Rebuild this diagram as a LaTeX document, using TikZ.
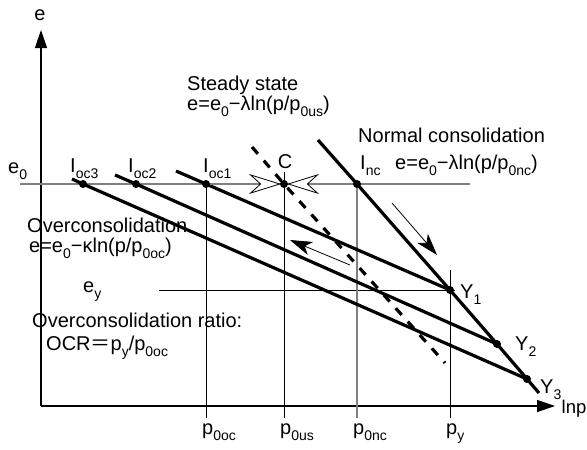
\documentclass[tikz,border=0pt]{standalone}
\usepackage{fontspec}
\setmainfont{Liberation Sans}
\newfontfamily\cjk{Noto Sans CJK JP}
\usetikzlibrary{arrows.meta}
\newcommand{\pedice}[1]{\raisebox{-6pt}{\fontsize{14}{14}\selectfont #1}}

\begin{document}
\begin{tikzpicture}[
                x=1pt, y=-1pt,
                font=\fontsize{20}{22}\selectfont,
                % Stili
                axis/.style={line width=1.3pt, -{Triangle[length=18pt,width=12pt]}},
                guide/.style={line width=1pt},
                greyguide/.style={line width=1.4pt, gray},
                curve/.style={line width=3.2pt},
                steady/.style={line width=3.2pt, dash pattern=on 9pt off 9pt},
                flow/.style={line width=0.8pt, -{Stealth[length=22pt,width=14pt,inset=6pt]}},
                meet/.style={line width=1.4pt, gray, shorten >=3pt,
                    -{Stealth[length=32pt,width=20pt,inset=11pt,line width=0.8pt,color=black,fill=white]}},
                lbl/.style={anchor=base west, inner sep=0pt}
            ]
                \useasboundingbox (0,0) rectangle (587,450);

                % ========================================================
                % 1. Punti notevoli
                % ========================================================
                \coordinate (O) at (41,406);
                \coordinate (Ioc3) at (83,184);
                \coordinate (Ioc2) at (136,184);
                \coordinate (Ioc1) at (206,184);
                \coordinate (C) at (284,184);
                \coordinate (Inc) at (357,184);
                \coordinate (Y1) at (450,290);
                \coordinate (Y2) at (497,344);
                \coordinate (Y3) at (527,379);

                % ========================================================
                % 2. Assi
                % ========================================================
                \coordinate (ytop) at (41,30);
                \coordinate (xend) at (555,406);
                \draw[axis] (O) -- (ytop);
                \draw[axis] (O) -- (xend);
                \node[lbl, anchor=base] (elab) at (40,20) {e};
                \node[lbl, font=\fontsize{18.5}{20}\selectfont] (lnp) at (561.5,413) {lnp};

                % ========================================================
                % 3. Linee di riferimento
                % ========================================================
                \coordinate (e0s) at (20,184);
                \coordinate (e0e) at (470,184);
                \draw[greyguide] (e0s) -- (e0e);
                \node[lbl] (e0) at (8,173) {e\pedice{0}};

                \coordinate (eys) at (159,290);
                \coordinate (eye) at (455,290);
                \draw[guide] (eys) -- (eye);
                \node[lbl] (ey) at (83,292) {e\pedice{y}};

                \coordinate (p0oc) at (206,418);
                \coordinate (Ctop) at (284,172);
                \coordinate (p0us) at (284,418);
                \coordinate (p0nc) at (357,418);
                \coordinate (pytop) at (450,270);
                \coordinate (py) at (450,418);
                \draw[guide] (Ioc1) -- (p0oc);
                \draw[guide] (Ctop) -- (p0us);
                \draw[greyguide] (Inc) -- (p0nc);
                \draw[guide] (pytop) -- (py);

                \node[lbl] (lp0oc) at (202,434) {p\pedice{0oc}};
                \node[lbl] (lp0us) at (280,434) {p\pedice{0us}};
                \node[lbl] (lp0nc) at (353,434) {p\pedice{0nc}};
                \node[lbl] (lpy) at (446,434) {p\pedice{y}};

                % ========================================================
                % 4. Linee di consolidazione
                % ========================================================
                \coordinate (oc1s) at (176,171);
                \coordinate (oc2s) at (115,175);
                \coordinate (oc3s) at (72,179);
                \draw[curve] (oc1s) -- (Ioc1) -- (Y1);
                \draw[curve] (oc2s) -- (Ioc2) -- (Y2);
                \draw[curve] (oc3s) -- (Ioc3) -- (Y3);

                \coordinate (ncs) at (318,140);
                \coordinate (nce) at (539,393);
                \draw[curve] (ncs) -- (Inc) -- (Y1) -- (Y2) -- (Y3) -- (nce);

                % Stato stazionario (tratteggiato)
                \coordinate (sss) at (252,147);
                \coordinate (sse) at (445,363);
                \draw[steady] (sss) -- (C) -- (sse);

                % Frecce di percorso
                \coordinate (f1s) at (392,203);
                \coordinate (f1e) at (437,255);
                \draw[flow] (f1s) -- (f1e);
                \coordinate (f2s) at (350,265);
                \coordinate (f2e) at (290,240);
                \draw[flow] (f2s) -- (f2e);

                % Frecce aperte verso C
                \draw[meet] (Ioc1) -- (C);
                \draw[meet] (Inc) -- (C);

                % Pallini
                \foreach \p in {Ioc3,Ioc2,Ioc1,C,Inc,Y1,Y2,Y3}
                    \fill (\p) circle (4pt);

                % ========================================================
                % 5. Etichette
                % ========================================================
                \node[lbl] (lIoc3) at (70,172) {I\pedice{oc3}};
                \node[lbl] (lIoc2) at (128,172) {I\pedice{oc2}};
                \node[lbl] (lIoc1) at (203,172) {I\pedice{oc1}};
                \node[lbl, anchor=base] (lC) at (285,168) {C};
                \node[lbl] (lInc) at (360,169) {I\pedice{nc}};

                \node[lbl] (lY1) at (460,298) {Y\pedice{1}};
                \node[lbl] (lY2) at (515,350) {Y\pedice{2}};
                \node[lbl] (lY3) at (540,393) {Y\pedice{3}};

                \node[lbl] (steady) at (187,90) {Steady state};
                \node[lbl] (steadyeq) at (187,110) {e=e\pedice{0}−λln(p/p\pedice{0us})};
                \node[lbl] (normal) at (358,142) {Normal consolidation};
                \node[lbl] (normaleq) at (395,169) {e=e\pedice{0}−λln(p/p\pedice{0nc})};
                \node[lbl] (over) at (27,232) {Overconsolidation};
                \node[lbl] (overeq) at (29,252) {e=e\pedice{0}−κln(p/p\pedice{0oc})};
                \node[lbl] (ocr) at (32,327) {Overconsolidation ratio:};
                \node[lbl] (ocreq) at (46,350) {OCR{\cjk ＝}p\pedice{y}/p\pedice{0oc}};

            \end{tikzpicture}
\end{document}
